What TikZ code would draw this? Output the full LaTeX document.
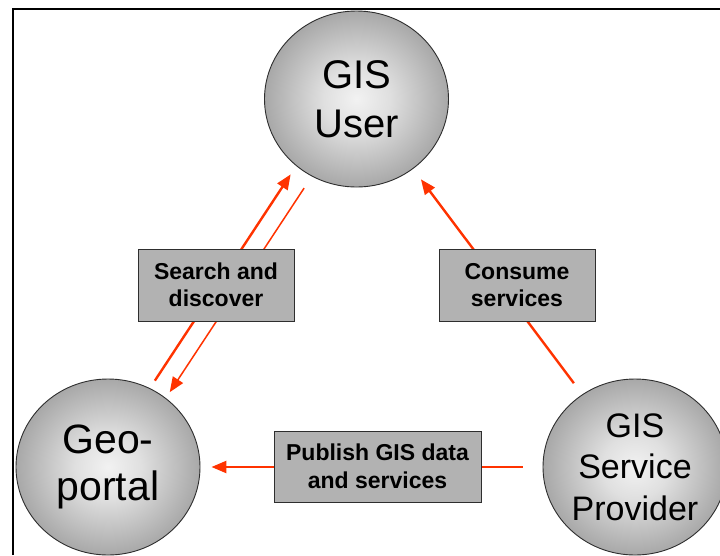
\documentclass[tikz,border=0pt]{standalone}
\usepackage{fontspec}
\setmainfont{Liberation Sans}
\usetikzlibrary{arrows.meta, shapes.geometric}
\definecolor{flowred}{HTML}{FF3300}
\definecolor{boxgray}{HTML}{B2B2B2}
\definecolor{rimgray}{HTML}{2E2E2E}
\definecolor{hubcore}{HTML}{F2F2F2}
\definecolor{hubedge}{HTML}{A8A8A8}
\pgfdeclareradialshading{hubglow}{\pgfpoint{0bp}{0bp}}{%
  color(0bp)=(hubcore); color(9bp)=(hubcore!75!hubedge);
  color(25bp)=(hubedge); color(50bp)=(hubedge)}

\begin{document}
\begin{tikzpicture}[
    x=1pt, y=-1pt,
    hub/.style={ellipse, draw=rimgray, line width=0.9pt,
      shading=hubglow,
      minimum width=184pt, minimum height=176pt,
      inner sep=0pt, align=center},
    tag/.style={rectangle, draw=rimgray, line width=1pt, fill=boxgray,
      inner sep=0pt, align=center,
      font=\fontsize{23}{27.5}\selectfont\bfseries},
    flow/.style={flowred, line width=2.4pt,
      -{Triangle[length=15pt, width=12pt]}},
    thinflow/.style={flow, line width=1.5pt},
  ]

  % Background and frame
  \useasboundingbox (0,0) rectangle (720,555);
  \fill[white] (0,0) rectangle (720,555);
  \draw[line width=2pt] (13,555) -- (13,9) -- (720,9);

  % === Actors ===
  \node[hub, font=\fontsize{40}{49}\selectfont] (user) at (356.5,99) {GIS\\User};
  \node[hub, font=\fontsize{41}{47}\selectfont] (portal) at (108,467) {Geo-\\portal};
  \node[hub, font=\fontsize{34}{41.5}\selectfont] (provider) at (635,467)
    {GIS\\Service\\Provider};

  % === Flows ===
  \draw[flow, shorten <=9pt, shorten >=10pt] (portal.62) -- (user.228);
  \draw[thinflow, shorten <=14pt, shorten >=7pt] (user.240) -- (portal.50);
  \draw[flow, shorten <=14pt, shorten >=13pt] (provider.126) -- (user.309);
  \draw[flow, shorten <=20pt, shorten >=11pt] (provider.180) -- (portal.0);

  % === Labels on the flows ===
  \node[tag, minimum width=156pt, minimum height=72pt] (search) at (216,285)
    {Search and\\discover};
  \node[tag, minimum width=156pt, minimum height=72pt] (consume) at (517,285)
    {Consume\\services};
  \node[tag, minimum width=207pt, minimum height=71pt] (publish) at (377.5,466.5)
    {Publish GIS data\\and services};

\end{tikzpicture}
\end{document}
